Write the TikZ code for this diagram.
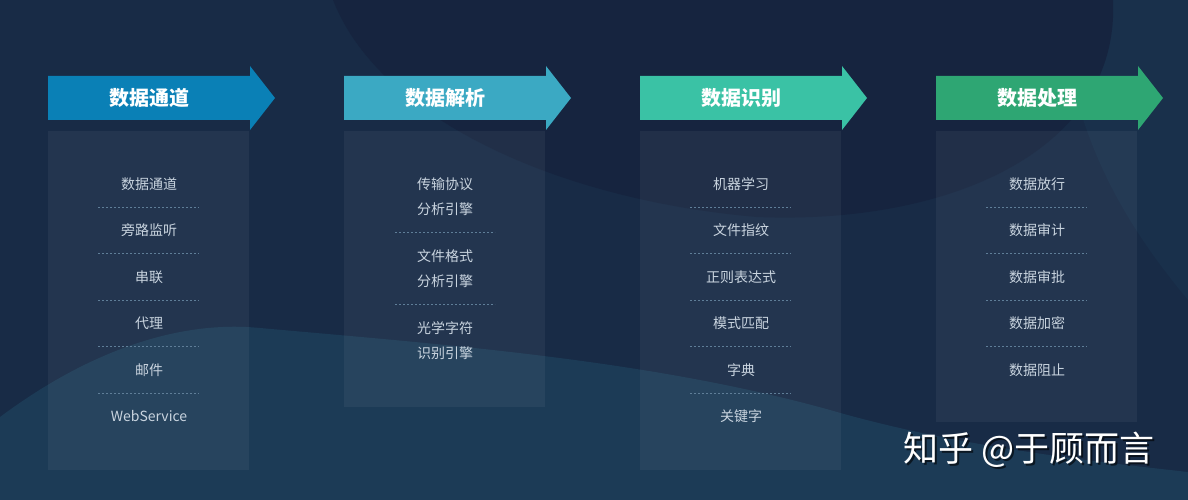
\documentclass[tikz,border=0pt]{standalone}
\usepackage{fontspec}
\setmainfont{Noto Sans CJK SC}
\newfontfamily\cjk{Noto Sans CJK SC}
\definecolor{bgbase}{HTML}{182B46}
\definecolor{bgdark}{HTML}{16243F}
\definecolor{bglight}{HTML}{1C3B56}
\definecolor{bgside}{HTML}{19304B}
\definecolor{cA}{HTML}{0A80B6}
\definecolor{cB}{HTML}{3BA9C3}
\definecolor{cC}{HTML}{3AC2A5}
\definecolor{cD}{HTML}{2EA673}
\definecolor{itemtxt}{HTML}{C9D4DF}
\definecolor{dashc}{HTML}{5F7E98}
\tikzset{
  panelbox/.style={fill=white, fill opacity=0.05, draw=none},
  titletxt/.style={text=white, font=\cjk\bfseries\fontsize{20}{22}\selectfont},
  itemnode/.style={text=itemtxt, font=\cjk\fontsize{14}{25}\selectfont, align=center, inner sep=0pt},
  sepline/.style={draw=dashc, line width=0.8pt, dash pattern=on 2pt off 2pt},
  wmtxt/.style={font=\cjk\fontsize{35}{38}\selectfont, anchor=center},
}
\begin{document}
\begin{tikzpicture}[x=1pt,y=-1pt]
\useasboundingbox (0,0) rectangle (1188,500);
% background
\fill[bgbase] (0,0) rectangle (1188,500);
\fill[bgside] (1060,0) -- (1188,0) -- (1188,300) .. controls (1130,230) and (1070,140) .. (1060,0) -- cycle;
\fill[bgdark] (333,0) .. controls (380,120) and (560,200) .. (757,217) .. controls (950,225) and (1120,150) .. (1113,0) -- cycle;
\fill[bglight] (0,417) .. controls (90,350) and (180,320) .. (260,328) .. controls (450,345) and (650,360) .. (830,410) .. controls (950,445) and (1080,460) .. (1188,472) -- (1188,500) -- (0,500) -- cycle;

% arrows and panels
\foreach \x/\c/\t/\h/\n in {48/cA/数据通道/470/a, 344/cB/数据解析/407/b, 640/cC/数据识别/470/c, 936/cD/数据处理/422/d}{
  \fill[\c] (\x,76) -- (\x+202,76) -- (\x+202,66) -- (\x+227,98) -- (\x+202,130) -- (\x+202,120) -- (\x,120) -- cycle;
  \node[titletxt] (title\n) at (\x+101,98) {\t};
  \fill[panelbox] (\x,131) rectangle (\x+201,\h);
}

% column 1
\foreach \y/\t/\k in {184/数据通道/1, 230/旁路监听/2, 277/串联/3, 323/代理/4, 370/邮件/5, 416/WebService/6}{
  \node[itemnode] (a\k) at (149,\y) {\t};
}
\foreach \y in {207,253,300,346,393}{
  \draw[sepline] (98,\y) -- (199,\y);
}
% column 2
\node[itemnode] (b1) at (445,197) {传输协议\\分析引擎};
\node[itemnode] (b2) at (445,269) {文件格式\\分析引擎};
\node[itemnode] (b3) at (445,341) {光学字符\\识别引擎};
\foreach \y in {232,304}{
  \draw[sepline] (395,\y) -- (495,\y);
}
% column 3
\foreach \y/\t/\k in {184/机器学习/1, 230/文件指纹/2, 277/正则表达式/3, 323/模式匹配/4, 370/字典/5, 416/关键字/6}{
  \node[itemnode] (c\k) at (741,\y) {\t};
}
\foreach \y in {207,253,300,346,393}{
  \draw[sepline] (690,\y) -- (791,\y);
}
% column 4
\foreach \y/\t/\k in {184/数据放行/1, 230/数据审计/2, 277/数据审批/3, 323/数据加密/4, 370/数据阻止/5}{
  \node[itemnode] (d\k) at (1037,\y) {\t};
}
\foreach \y in {207,253,300,346}{
  \draw[sepline] (986,\y) -- (1087,\y);
}

% watermark
\node[wmtxt, text=black, opacity=0.6] (wmshadow) at (1031,452) {知乎 @于顾而言};
\node[wmtxt, text=white] (wm) at (1029,450) {知乎 @于顾而言};
\end{tikzpicture}
\end{document}
